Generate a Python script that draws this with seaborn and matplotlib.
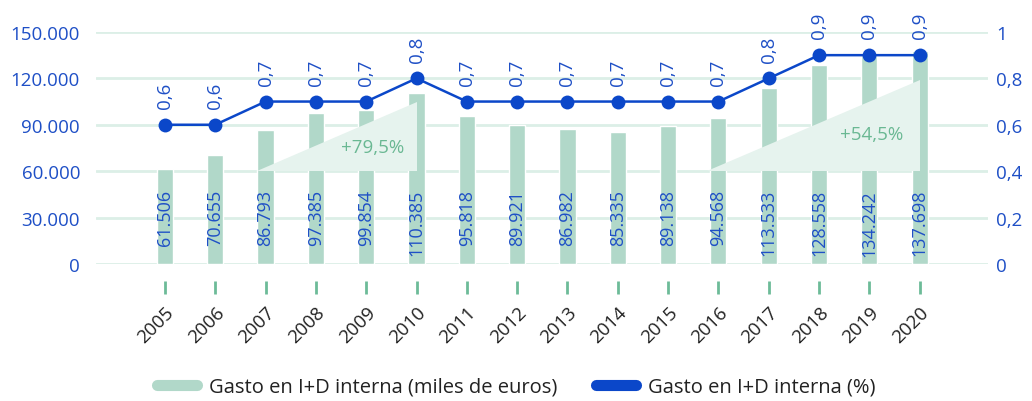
import numpy as np
import pandas as pd
import matplotlib.pyplot as plt
import seaborn as sns
from matplotlib.lines import Line2D
from matplotlib.patches import Polygon

years = ['2005', '2006', '2007', '2008', '2009', '2010', '2011', '2012',
         '2013', '2014', '2015', '2016', '2017', '2018', '2019', '2020']
gasto_miles = [61506, 70655, 86793, 97385, 99854, 110385, 95818, 89921,
               86982, 85335, 89138, 94568, 113533, 128558, 134242, 137698]
gasto_pct = [0.6, 0.6, 0.7, 0.7, 0.7, 0.8, 0.7, 0.7,
             0.7, 0.7, 0.7, 0.7, 0.8, 0.9, 0.9, 0.9]
left_ticks = [0, 30000, 60000, 90000, 120000, 150000]
right_ticks = [0, 0.2, 0.4, 0.6, 0.8, 1]
growth_labels = ['+79,5%', '+54,5%']

bar_color = '#b1d8c9'
line_color = '#0b47c9'
text_blue = '#1e4fc6'
grid_color = '#dcefe7'
tri_color = '#e6f3ee'
tri_text = '#6ab893'
tick_green = '#6dbb98'


def miles(v):
    return f'{v:,.0f}'.replace(',', '.')


def coma(v):
    s = f'{v:.1f}'.replace('.', ',')
    return '1' if s == '1,0' else ('0' if s == '0,0' else s)


sns.set_style('white')
plt.rcParams['font.family'] = ['Open Sans', 'DejaVu Sans']

df = pd.DataFrame({'year': years, 'miles': gasto_miles, 'pct': gasto_pct,
                   'pos': np.arange(len(years))})

fig = plt.figure(figsize=(10.32, 4.02), dpi=100)
ax = fig.add_axes([0.093, 0.341, 0.864, 0.577])

sns.barplot(data=df, x='year', y='miles', color=bar_color, width=0.32,
            saturation=1, ax=ax, zorder=2)
ax.set_xlim(-1.37, 16.35)
ax.set_ylim(0, 150000)
ax.set_yticks(left_ticks)
ax.set_yticklabels([miles(v) for v in left_ticks])
ax.yaxis.grid(True, color=grid_color, linewidth=2, zorder=0)
ax.set_axisbelow(True)
for s in ax.spines.values():
    s.set_visible(False)
ax.spines['bottom'].set_position(('outward', 12))
ax.tick_params(axis='y', length=0, pad=11.5, labelsize=13.5, labelcolor=text_blue)
ax.tick_params(axis='x', bottom=True, length=9, width=2, color=tick_green,
               direction='out', labelsize=13.5, labelcolor='#222222', pad=7)
plt.setp(ax.get_xticklabels(), rotation=45, ha='right', rotation_mode='anchor')
ax.set_xlabel('')
ax.set_ylabel('')

# growth triangles
tri_pts = [[(1.84, 60000), (5, 60000), (5, 105000)],
           [(10.78, 60000), (15, 60000), (15, 119000)]]
tri_txt = [(4.13, 75500), (14.04, 84000)]
for pts, (tx, ty), lab in zip(tri_pts, tri_txt, growth_labels):
    ax.add_patch(Polygon(pts, closed=True, facecolor=tri_color, edgecolor='none', zorder=3))
    ax.text(tx, ty, lab, ha='center', va='center', color=tri_text, fontsize=13.5, zorder=4)

# bar value labels
for i, v in enumerate(gasto_miles):
    ax.text(i, 48500, miles(v), rotation=90, ha='center', va='top',
            color=text_blue, fontsize=13, zorder=5)

ax2 = ax.twinx()
sns.lineplot(data=df, x='pos', y='pct', color=line_color, linewidth=1.8,
             marker='o', markersize=10, markeredgewidth=0, ax=ax2, zorder=6)
ax2.set_ylim(0, 1)
ax2.set_xlim(-1.37, 16.35)
ax2.set_yticks(right_ticks)
ax2.set_yticklabels([coma(v) for v in right_ticks])
ax2.tick_params(axis='y', length=0, pad=6, labelsize=13.5, labelcolor=text_blue)
ax2.set_xlabel('')
ax2.set_ylabel('')
for s in ax2.spines.values():
    s.set_visible(False)
for i, v in enumerate(gasto_pct):
    ax2.annotate(coma(v), (i, v), xytext=(0, 12), textcoords='offset points',
                 rotation=90, ha='center', va='bottom', color=text_blue,
                 fontsize=13.5, annotation_clip=False)

handles = [Line2D([0], [0], color=bar_color, linewidth=8, solid_capstyle='round'),
           Line2D([0], [0], color=line_color, linewidth=8, solid_capstyle='round')]
fig.legend(handles, ['Gasto en I+D interna (miles de euros)', 'Gasto en I+D interna (%)'],
           loc='center', bbox_to_anchor=(0.5, 0.035), ncol=2, frameon=False,
           fontsize=14.5, handlelength=2.0, handletextpad=0.6, columnspacing=1.9,
           labelcolor='#222222')

fig.savefig('out.png', dpi=100)
